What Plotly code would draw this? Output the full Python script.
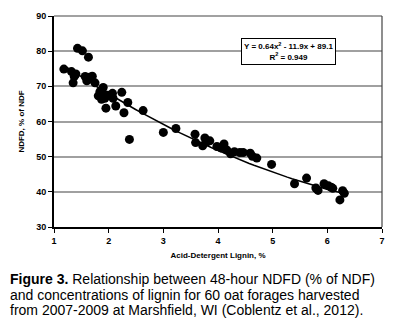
import numpy as np
import plotly.graph_objects as go

lignin = [1.18, 1.32, 1.37, 1.35, 1.40, 1.43, 1.52, 1.63, 1.57, 1.65, 1.60, 1.70, 1.75,
          1.90, 1.84, 1.88, 1.81, 1.87, 1.93, 1.98, 2.07, 2.24, 2.08, 2.13, 1.95, 2.35,
          2.28, 2.63, 2.38, 3.00, 3.23, 3.58, 3.59, 3.76, 3.80, 3.85, 3.72, 3.98, 4.05,
          4.11, 4.16, 4.23, 4.30, 4.40, 4.46, 4.59, 4.63, 4.71, 4.98, 5.40, 5.62, 5.79,
          5.83, 5.94, 6.02, 6.07, 6.10, 6.28, 6.31, 6.23]
ndfd = [74.9, 74.2, 72.8, 71.0, 73.5, 80.8, 80.1, 78.3, 72.8, 72.6, 71.6, 72.9, 71.0,
        69.7, 68.5, 69.0, 67.3, 66.3, 66.6, 67.5, 68.0, 68.3, 66.6, 64.4, 63.8, 65.4,
        62.5, 63.1, 54.9, 56.9, 58.0, 56.4, 54.0, 55.3, 54.2, 54.5, 53.1, 52.9, 52.5,
        53.6, 51.9, 50.8, 51.4, 51.2, 51.2, 51.0, 50.1, 49.6, 47.8, 42.3, 43.9, 41.1,
        40.4, 42.3, 41.7, 41.3, 41.0, 40.3, 39.6, 37.7]
trend_coef = [0.64, -11.9, 89.1]
x_ticks = [1, 2, 3, 4, 5, 6, 7]
y_ticks = [30, 40, 50, 60, 70, 80, 90]

FONT = "Arial, Liberation Sans, sans-serif"

xs = np.linspace(min(lignin), max(lignin), 60)
ys = np.polyval(trend_coef, xs)

fig = go.Figure()
fig.add_trace(go.Scatter(x=xs, y=ys, mode="lines",
                         line=dict(color="black", width=1.5), hoverinfo="skip"))
fig.add_trace(go.Scatter(x=lignin, y=ndfd, mode="markers",
                         marker=dict(color="black", size=9)))

fig.update_layout(
    width=400, height=333,
    margin=dict(l=54, r=18, t=16, b=106),
    paper_bgcolor="white", plot_bgcolor="white",
    showlegend=False,
    font=dict(family=FONT, color="black"),
    xaxis=dict(range=[1, 7], tickvals=x_ticks, showgrid=False, zeroline=False,
               showline=True, linecolor="black", linewidth=2, mirror=False,
               ticks="outside", ticklen=4, tickwidth=1, tickcolor="black",
               tickfont=dict(size=9, family=FONT, weight="bold"),
               title=dict(text="<b>Acid-Detergent Lignin, %</b>", font=dict(size=8), standoff=8)),
    yaxis=dict(range=[30, 90], tickvals=y_ticks, showgrid=True, gridcolor="#a0a0a0",
               gridwidth=1.5, zeroline=False,
               showline=True, linecolor="black", linewidth=2,
               ticks="outside", ticklen=4, tickwidth=1, tickcolor="black",
               tickfont=dict(size=9, family=FONT, weight="bold"),
               title=dict(text="<b>NDFD, % of NDF</b>", font=dict(size=8), standoff=10)),
    shapes=[
        dict(type="line", xref="paper", yref="paper", x0=0, x1=1, y0=1, y1=1,
             line=dict(color="#444", width=1.2)),
        dict(type="line", xref="paper", yref="paper", x0=1, x1=1, y0=0, y1=1,
             line=dict(color="#444", width=1.2)),
    ],
)

fig.add_annotation(xref="paper", yref="paper", x=(288 - 54) / 328, y=(227 - 51) / 211,
                   text="<b>Y = 0.64x<sup>2</sup> - 11.9x + 89.1<br>R<sup>2</sup> = 0.949</b>",
                   showarrow=False, font=dict(size=8, family=FONT),
                   bgcolor="white", bordercolor="black", borderwidth=1, borderpad=2,
                   xanchor="center", yanchor="middle")

caption = [
    "<b>Figure 3.</b> Relationship between 48-hour NDFD (% of NDF)",
    "and concentrations of lignin for 60 oat forages harvested",
    "from 2007-2009 at Marshfield, WI (Coblentz et al., 2012).",
]
cap_y = [279, 294.5, 310]
for txt, yp in zip(caption, cap_y):
    fig.add_annotation(xref="paper", yref="paper", x=(8 - 54) / 328, y=(227 - yp) / 211,
                       text=txt, showarrow=False, xanchor="left", yanchor="middle",
                       font=dict(size=14, family=FONT, color="black"))

fig.write_html("out.html")
